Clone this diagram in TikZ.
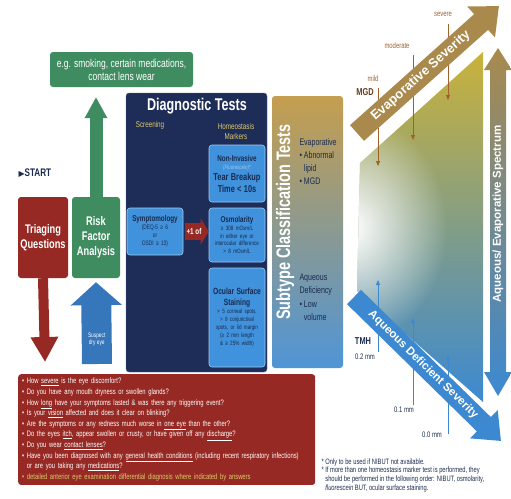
\documentclass[tikz,border=0pt]{standalone}
\usepackage{fontspec}
\setmainfont{Liberation Sans}[FakeStretch=0.74]
\newfontfamily\widefont{Liberation Sans}
\newfontfamily\symfont{DejaVu Sans}
\usetikzlibrary{arrows.meta,fadings,positioning}
\definecolor{tfnavy}{HTML}{1E2C58}
\definecolor{tfink}{HTML}{1B2A4E}
\definecolor{tfred}{HTML}{962923}
\definecolor{tfgreen}{HTML}{3E8C60}
\definecolor{tfblue}{HTML}{3F92DB}
\definecolor{tfpale}{HTML}{9CCBF2}
\definecolor{tfgold}{HTML}{DCCB6A}
\definecolor{tftan}{HTML}{A98A4C}
\definecolor{tfbrown}{HTML}{A0622A}
\definecolor{tfsky}{HTML}{3C89D2}
\definecolor{tfyellow}{HTML}{C9B23A}
\definecolor{tfochre}{HTML}{C59E4E}
\newcommand{\fsz}[2]{\fontsize{#1}{#2}\selectfont}
\tikzfading[name=leftglow, inner color=transparent!0, outer color=transparent!100]
\tikzset{
  box/.style={rounded corners=3pt, align=center, inner sep=1pt},
  redbox/.style={box, fill=tfred, text=white},
  greenbox/.style={box, fill=tfgreen, text=white},
  testbox/.style={box, fill=tfblue, draw=tfpale, line width=0.6pt, text=tfink, text width=54pt, minimum width=56pt},
  blockarrow/.style={line width=#1},
  sevlabel/.style={text=tfbrown, font=\fsz{8}{8}},
  tmhlabel/.style={text=tfink, font=\fsz{8}{8}},
  evline/.style={draw=tfbrown, line width=0.9pt, -{Triangle[width=4pt,length=5pt]}},
  aqline/.style={draw=tfsky, line width=0.9pt, -{Triangle[width=4pt,length=5pt]}}
}

\begin{document}
\begin{tikzpicture}[x=1pt, y=-1pt, font=\fsz{7}{8}]
  %%%%% START %%%%%
  \useasboundingbox (0,0) rectangle (511,498);

  % left column
  \node[greenbox, minimum width=143pt, minimum height=35pt, font=\fsz{11.5}{13}] (smoking) at (121.5,69.5) {e.g. smoking, certain medications,\\contact lens wear};
  \node[anchor=west, text=tfink, font=\bfseries\fsz{11}{11}] (start) at (15,173) {{\symfont\fsz{8}{8}▶}START};
  \node[redbox, minimum width=50pt, minimum height=81pt, font=\bfseries\fsz{12.5}{15}] (triage) at (43,237.5) {Triaging\\Questions};
  \node[greenbox, minimum width=48pt, minimum height=81pt, font=\bfseries\fsz{12.5}{15}] (risk) at (96,237.5) {Risk\\Factor\\Analysis};

  \coordinate (riskup) at (96,97);
  \coordinate (qin) at (45,362);
  \coordinate (suspect) at (97,364);
  \draw[blockarrow=13pt, draw=tfgreen, -{Triangle[width=21pt,length=21pt]}] (risk.north) -- (riskup);
  \draw[blockarrow=10pt, draw=tfred, -{Triangle[width=26pt,length=25pt]}] (triage.south) -- (qin);
  \draw[blockarrow=30pt, draw=tfsky!80!tfnavy, -{Triangle[width=50pt,length=23pt]}] (suspect) -- ([yshift=-4pt]risk.south)
    node[pos=0.3, text=white, font=\fsz{6.5}{7.5}, align=center] {Suspect\\dry eye};

  % diagnostic tests
  \node[box, fill=tfnavy, draw=tfnavy!70!white, minimum width=141pt, minimum height=279pt] (diag) at (196.5,232.5) {};
  \node[text=white, font=\bfseries\fsz{17}{17}] (diagtitle) at (197,106) {Diagnostic Tests};
  \node[text=tfgold, font=\fsz{8.5}{10}] (screening) at (150,125) {Screening};
  \node[text=tfgold, font=\fsz{8.5}{10}, align=center] (homeo) at (236,131) {Homeostasis\\Markers};

  \node[testbox, minimum height=47pt] (symp) at (155,231.5)
    {{\bfseries\fsz{8.5}{10}Symptomology\par}{\fsz{6.5}{8}(DEQ-5 ≥ 6\\or\\OSDI ≥ 13)\par}};
  \node[testbox, minimum height=57pt] (nibut) at (237,173.5)
    {{\bfseries\fsz{8.5}{9.5}Non-Invasive\par}{\itshape\color{tfpale}\fsz{6}{8}(Fluorescein)*\par}{\bfseries\fsz{10}{11.5}Tear Breakup\\Time < 10s\par}};
  \node[testbox, minimum height=54pt] (osmo) at (237,235)
    {{\bfseries\fsz{8.5}{10}Osmolarity\par}{\fsz{6.2}{7.6}≥ 308 mOsm/L\\in either eye or\\interocular difference\\> 8 mOsm/L\par}};
  \node[testbox, minimum height=99pt] (stain) at (237,317.5)
    {{\bfseries\fsz{9}{10.5}Ocular Surface\\Staining\par}{\fsz{6.2}{8}> 5 corneal spots,\\> 9 conjunctival\\spots, or lid margin\\(≥ 2 mm length\\\& ≥ 25\% width)\par}};

  \draw[blockarrow=17pt, draw=tfred, -{Triangle[width=26pt,length=8pt]}, shorten <=2pt] (symp.east) -- (symp.east -| osmo.west)
    node[midway, xshift=-2pt, text=white, font=\bfseries\fsz{8.5}{8.5}] {+1 of};

  % subtype classification
  \node[box, top color=tfochre, middle color=tfochre!35!tfsky!55!white, bottom color=tfsky!90!white, minimum width=71pt, minimum height=272pt] (subtype) at (307.5,232) {};
  \node[rotate=90, text=white, font=\bfseries\fsz{19.5}{20}] (subtitle) at (285,222) {Subtype Classification Tests};
  \node[anchor=north west, text=tfink, font=\fsz{9.5}{13}, align=left] (evap) at (296,135)
    {Evaporative\\\textbullet\ Abnormal\\\phantom{\textbullet\ }lipid\\\textbullet\ MGD};
  \node[anchor=north west, text=tfink, font=\fsz{9.5}{13.5}, align=left] (aqdef) at (296,270)
    {Aqueous\\Deficiency\\\textbullet\ Low\\\phantom{\textbullet\ }volume};

  % severity field
  \shade[top color=tfyellow, middle color=tfyellow!30!tfsky!45!white, bottom color=tfsky] (360,163) -- (483,52) -- (483,402) -- (357,291) -- cycle;
  \begin{scope}
    \clip (360,163) -- (483,52) -- (483,402) -- (357,291) -- cycle;
    \fill[white, path fading=leftglow] (352,228) ellipse (95 and 115);
  \end{scope}

  \foreach \x/\top/\bot in {378/88/166, 413/55/140, 448/24/100}
    \draw[evline] (\x,\top) -- (\x,\bot);
  \foreach \x/\bot/\top in {378/352/280, 413/405/318, 448/434/355}
    \draw[aqline] (\x,\bot) -- (\x,\top);

  \coordinate (evs) at (357,133);
  \coordinate (eve) at (499,6);
  \coordinate (aqs) at (354,297);
  \coordinate (aqe) at (501,441);
  \draw[blockarrow=21pt, draw=tftan, -{Triangle[width=40pt,length=24pt]}] (evs) -- (eve)
    node[pos=0.45, sloped, text=white, font=\widefont\bfseries\fsz{13}{13}] {Evaporative Severity};
  \draw[blockarrow=20pt, draw=tfsky, -{Triangle[width=38pt,length=24pt]}] (aqs) -- (aqe)
    node[pos=0.47, sloped, text=white, font=\widefont\bfseries\fsz{11.5}{12}] {Aqueous Deficient Severity};

  \node[sevlabel] (mild) at (373,79) {mild};
  \node[text=tfbrown!60!black, font=\bfseries\fsz{10}{10}] (mgd) at (365,92) {MGD};
  \node[sevlabel] (moderate) at (397,46) {moderate};
  \node[sevlabel] (severe) at (443,14) {severe};

  \node[text=tfink, font=\bfseries\fsz{10}{10}] (tmh) at (363,341) {TMH};
  \node[tmhlabel] (tmh2) at (365,357) {0.2 mm};
  \node[tmhlabel] (tmh1) at (404,410) {0.1 mm};
  \node[tmhlabel] (tmh0) at (432,435) {0.0 mm};

  % spectrum arrow
  \shade[top color=tftan, middle color=tftan!45!tfsky, bottom color=tfsky] (498,48) -- (512,70) -- (506,70) -- (506,372) -- (512,372) -- (498,396) -- (484,372) -- (490,372) -- (490,70) -- (484,70) -- cycle;
  \node[rotate=90, text=white, font=\widefont\bfseries\fsz{11.5}{12}] (spectrum) at (498,214) {Aqueous/ Evaporative Spectrum};

  % triaging questions
  \node[redbox, anchor=north west, minimum width=297pt, minimum height=110pt, text width=289pt, align=left, inner sep=4pt, font=\fsz{7.9}{10.6}] (questions) at (18,374) {%
    \textbullet\ How \underline{severe} is the eye discomfort?\\
    \textbullet\ Do you have any mouth dryness or swollen glands?\\
    \textbullet\ How \underline{long} have your symptoms lasted \& was there any triggering event?\\
    \textbullet\ Is your \underline{vision} affected and does it clear on blinking?\\
    \textbullet\ Are the symptoms or any redness much worse in \underline{one eye} than the other?\\
    \textbullet\ Do the eyes \underline{itch}, appear swollen or crusty, or have given off any \underline{discharge}?\\
    \textbullet\ Do you wear \underline{contact lenses}?\\
    \textbullet\ Have you been diagnosed with any \underline{general health conditions} (including recent respiratory infections)\\
    \phantom{\textbullet\ }or are you taking any \underline{medications}?\\
    {\color{tfgold}\textbullet\ detailed anterior eye examination differential diagnosis where indicated by answers}};

  \node[anchor=north west, text=tfink, align=left, font=\fsz{7.8}{8.8}] (notes) at (318,455) {%
    * Only to be used if NIBUT not available.\\
    * If more than one homeostasis marker test is performed, they\\
    \phantom{* }should be performed in the following order: NIBUT, osmolarity,\\
    \phantom{* }\textit{fluorescein} BUT, ocular surface staining.};
  %%%%% END %%%%%
\end{tikzpicture}
\end{document}
